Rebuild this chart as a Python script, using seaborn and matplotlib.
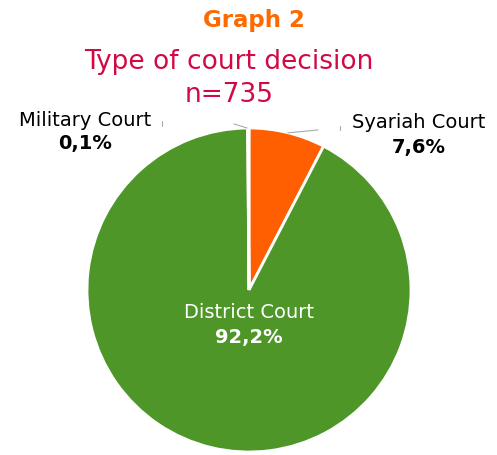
import matplotlib
matplotlib.use("Agg")
import matplotlib.pyplot as plt
import seaborn as sns

# Data
categories = ["Syariah Court", "District Court", "Military Court"]
counts = [56, 678, 1]
pct_labels = ["7,6%", "92,2%", "0,1%"]
colors = ["#FF5F00", "#4F9629", "#4F9629"]

sns.set_theme(style="white")
plt.rcParams['font.family'] = ['DejaVu Sans']

W, H = 497, 455
fig = plt.figure(figsize=(W / 100, H / 100), dpi=100)
fig.patch.set_facecolor("white")

cx, cy, r = 249, 290, 162
ax = fig.add_axes([(cx - r) / W, (H - cy - r) / H, 2 * r / W, 2 * r / H])
wedges, _ = ax.pie(counts, colors=colors, startangle=90, counterclock=False,
                   wedgeprops=dict(edgecolor="white", linewidth=2))
ax.set_xlim(-1, 1)
ax.set_ylim(-1, 1)
ax.set_aspect("equal")
ax.axis("off")
ax.set_clip_on(False)

# Leader lines
lc = "#AAAAAA"
ax.plot([-0.012, -0.093], [1.0, 1.025], color=lc, lw=0.8, clip_on=False)
ax.plot([-0.537, -0.537], [1.015, 1.045], color=lc, lw=0.8, clip_on=False)
ax.plot([0.24, 0.426], [0.97, 0.988], color=lc, lw=0.8, clip_on=False)
ax.plot([0.56, 0.56], [0.99, 1.01], color=lc, lw=0.8, clip_on=False)

def fy(y):
    return 1 - y / H

def fx(x):
    return x / W

fig.text(fx(254), fy(20), "Graph 2", color="#FF6A00", fontsize=16.5,
         fontweight="bold", ha="center", va="center")
fig.text(fx(229), fy(62), "Type of court decision", color="#D10A45",
         fontsize=19, ha="center", va="center")
fig.text(fx(229), fy(95), "n=735", color="#D10A45", fontsize=19,
         ha="center", va="center")

fs = 14
fig.text(fx(85), fy(120), categories[2], color="black", fontsize=fs,
         ha="center", va="center")
fig.text(fx(85), fy(143), pct_labels[2], color="black", fontsize=fs,
         fontweight="bold", ha="center", va="center")
fig.text(fx(419), fy(123), categories[0], color="black", fontsize=fs,
         ha="center", va="center")
fig.text(fx(419), fy(147), pct_labels[0], color="black", fontsize=fs,
         fontweight="bold", ha="center", va="center")
fig.text(fx(249), fy(313), categories[1], color="white", fontsize=fs,
         ha="center", va="center")
fig.text(fx(249), fy(338), pct_labels[1], color="white", fontsize=fs,
         fontweight="bold", ha="center", va="center")

fig.savefig("out.png", dpi=100, facecolor="white")
